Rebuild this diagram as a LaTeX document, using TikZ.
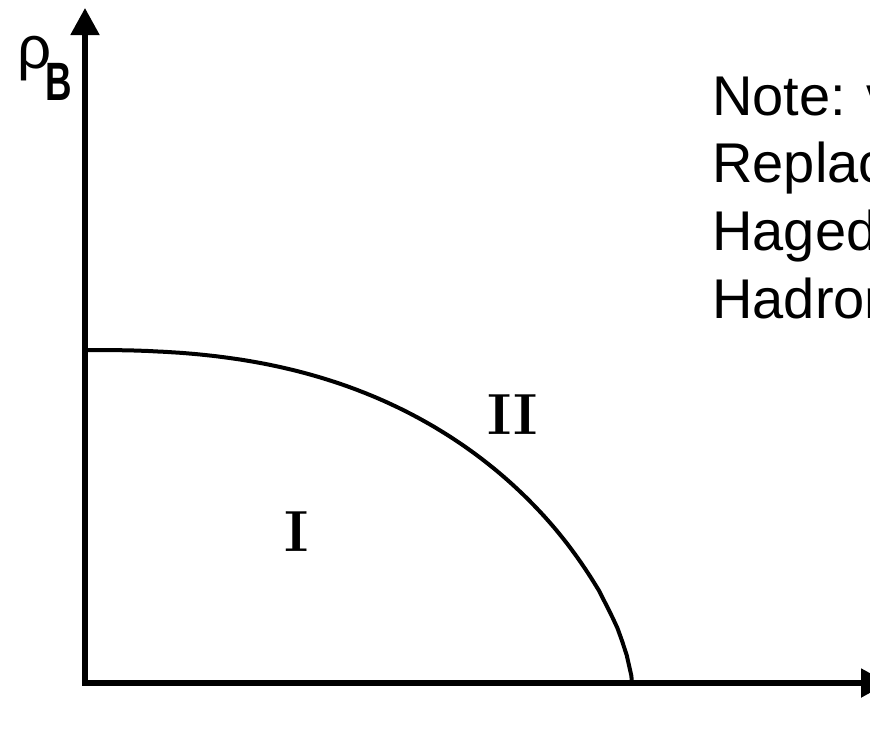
\documentclass[tikz,border=0pt]{standalone}
\usepackage{amsmath,amssymb}
\usepackage{fontspec}
\newfontfamily\notefont{Liberation Sans}
\usepackage{tikz}
\usetikzlibrary{arrows.meta}

\begin{document}
\begin{tikzpicture}[x=0.5pt,y=-0.5pt,
 axis/.style={line width=2.6pt,{Triangle[length=13.5pt,width=14pt]}-{Triangle[length=13.5pt,width=14pt]}},
 curve/.style={line width=2pt,line join=round},
 region/.style={inner sep=0pt,font=\fontsize{29}{29}\selectfont\bfseries},
 note/.style={inner sep=0pt,anchor=base west,font=\notefont\fontsize{28}{34}\selectfont}]
\useasboundingbox (0,0) rectangle (870,751);
\clip (0,0) rectangle (870,751);
% axes
\coordinate (o) at (85,683);
\coordinate (ytop) at (85,8);
\coordinate (xend) at (888,683);
\draw[axis] (ytop) -- (o) -- (xend);
\node[inner sep=0pt,anchor=base west,font=\notefont\fontsize{30}{30}\selectfont] (rho) at (17,68)
 {ρ\kern-3pt\raisebox{-16pt}{\fontsize{27}{27}\selectfont\scalebox{0.68}[1]{\bfseries B}}};
% phase boundary
\coordinate (top) at (85,350);
\coordinate (foot) at (632,683);
\draw[curve] plot[domain=0:0.999,samples=120] ({85+547*\x},{683-333*(1-\x^2.5)^(0.6667)}) -- (foot);
\node[region] (one) at (297,532) {I};
\node[region] (two) at (513,415) {II};
% note
\node[note] (n1) at (712,115) {Note: v};
\node[note] (n2) at (712,182) {Replac};
\node[note] (n3) at (712,250) {Haged};
\node[note] (n4) at (712,318) {Hadron};
\end{tikzpicture}
\end{document}
